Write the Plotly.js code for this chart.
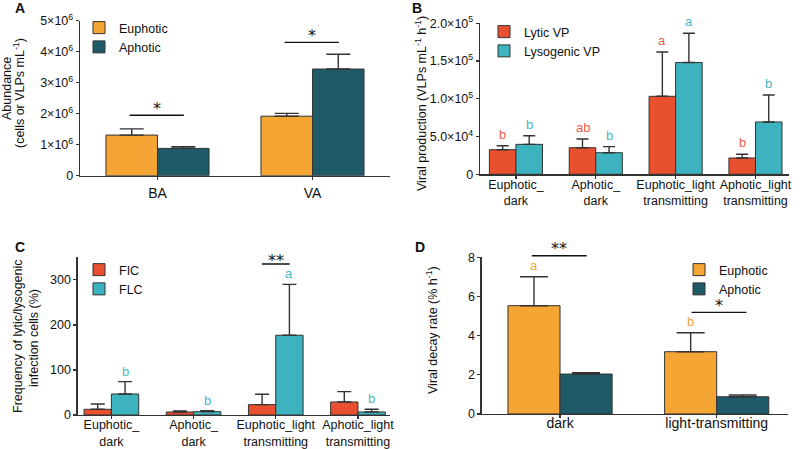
<!DOCTYPE html>
<html>
<head>
<meta charset="utf-8">
<script src="https://cdn.plot.ly/plotly-3.0.1.min.js"></script>
<style>html,body{margin:0;padding:0;background:#fff;}#chart{width:800px;height:449px;}</style>
</head>
<body>
<div id="chart"></div>
<script>
// ---------- DATA ----------
// Panel A
const catsA = ['BA', 'VA'];
const euphA = [1.31e6, 1.92e6];
const euphAerr = [0.20e6, 0.09e6];
const aphA = [0.88e6, 3.44e6];
const aphAerr = [0.055e6, 0.48e6];
const tickValsA = [0, 1e6, 2e6, 3e6, 4e6, 5e6];
const tickTextA = ['0', '1×10<sup>6</sup>', '2×10<sup>6</sup>', '3×10<sup>6</sup>', '4×10<sup>6</sup>', '5×10<sup>6</sup>'];

// Panel B
const catsB = ['Euphotic_<br>dark', 'Aphotic_<br>dark', 'Euphotic_light<br>transmitting', 'Aphotic_light<br>transmitting'];
const lyticB = [3.26e4, 3.52e4, 1.033e5, 2.16e4];
const lyticBerr = [0.53e4, 1.16e4, 0.586e5, 0.49e4];
const lysoB = [3.97e4, 2.86e4, 1.48e5, 6.93e4];
const lysoBerr = [1.14e4, 0.80e4, 0.388e5, 3.57e4];
const lyticBletters = ['b', 'ab', 'a', 'b'];
const lysoBletters = ['b', 'b', 'a', 'b'];
const tickValsB = [0, 5e4, 1e5, 1.5e5, 2e5];
const tickTextB = ['0', '5.0×10<sup>4</sup>', '1.0×10<sup>5</sup>', '1.5×10<sup>5</sup>', '2.0×10<sup>5</sup>'];

// Panel C
const catsC = catsB;
const ficC = [12.6, 6.7, 23, 28.9];
const ficCerr = [11.8, 2.5, 23, 22.9];
const flcC = [46.7, 7.4, 177, 6.7];
const flcCerr = [27.3, 2.2, 113, 5.9];
const flcCletters = ['b', 'b', 'a', 'b'];
const tickValsC = [0, 100, 200, 300];

// Panel D
const catsD = ['dark', 'light-transmitting'];
const euphD = [5.53, 3.18];
const euphDerr = [1.48, 0.97];
const aphD = [2.04, 0.88];
const aphDerr = [0.07, 0.09];
const euphDletters = ['a', 'b'];
const tickValsD = [0, 2, 4, 6, 8];

// ---------- STYLE ----------
const ORANGE = '#F5A533', DTEAL = '#1F5A68', RED = '#E8502F', LTEAL = '#3DB3BF';
const RED_T = '#E8614A', LTEAL_T = '#4BB7C3', ORANGE_T = '#F2A540';
const INK = '#333333';
const FONT = 'Liberation Sans, Arial, sans-serif';

function bar(x, y, err, color, name, xa, ya, legend, ew) {
  return {
    type: 'bar', x: x, y: y, name: name, xaxis: xa, yaxis: ya, legend: legend,
    marker: {color: color, line: {color: INK, width: 1}},
    error_y: {type: 'data', array: err, arrayminus: err.map(() => 0), symmetric: false,
              color: INK, thickness: 1.4, width: ew}
  };
}

const traces = [
  bar(catsA, euphA, euphAerr, ORANGE, 'Euphotic', 'x', 'y', 'legend', 12),
  bar(catsA, aphA, aphAerr, DTEAL, 'Aphotic', 'x', 'y', 'legend', 12),
  bar(catsB, lyticB, lyticBerr, RED, 'Lytic VP', 'x2', 'y2', 'legend2', 6),
  bar(catsB, lysoB, lysoBerr, LTEAL, 'Lysogenic VP', 'x2', 'y2', 'legend2', 6),
  bar(catsC, ficC, ficCerr, RED, 'FIC', 'x3', 'y3', 'legend3', 7),
  bar(catsC, flcC, flcCerr, LTEAL, 'FLC', 'x3', 'y3', 'legend3', 7),
  bar(catsD, euphD, euphDerr, ORANGE, 'Euphotic', 'x4', 'y4', 'legend4', 14),
  bar(catsD, aphD, aphDerr, DTEAL, 'Aphotic', 'x4', 'y4', 'legend4', 14)
];

function xax(domain, range, anchor, fs, so) {
  return {domain: domain, range: range, anchor: anchor, type: 'category',
    showline: true, linecolor: INK, linewidth: 1.3, ticks: 'outside', ticklen: 3,
    tickwidth: 1.3, tickcolor: INK, showgrid: false, zeroline: false,
    ticklabelstandoff: so,
    tickfont: {family: FONT, size: fs, color: '#111'}, fixedrange: true};
}
function yax(domain, range, anchor, tv, tt) {
  return {domain: domain, range: range, anchor: anchor, showline: true, linecolor: INK,
    linewidth: 1.3, ticks: 'outside', ticklen: 3, tickwidth: 1.3, tickcolor: INK,
    showgrid: false, zeroline: false, tickvals: tv, ticktext: tt,
    tickfont: {family: FONT, size: 12.5, color: '#111'}, fixedrange: true};
}

const W = 800, H = 449;
const px = v => v / W, py = v => 1 - v / H;
const legFont = {family: FONT, size: 12.5, color: '#111'};

const layout = {
  width: W, height: H, margin: {l: 0, r: 0, t: 0, b: 0},
  paper_bgcolor: '#fff', plot_bgcolor: '#fff',
  barmode: 'group', bargap: 0.335, bargroupgap: 0,
  font: {family: FONT, color: '#111'},
  xaxis: xax([px(80), px(390)], [-0.5, 1.5], 'y', 14, 1),
  yaxis: yax([py(175.7), py(20.7)], [0, 5e6], 'x', tickValsA, tickTextA),
  xaxis2: xax([px(480), px(789)], [-0.45, 3.42], 'y2', 12.5, -5),
  yaxis2: yax([py(174.3), py(23.3)], [0, 2e5], 'x2', tickValsB, tickTextB),
  xaxis3: xax([px(77.7), px(390)], [-0.41, 3.39], 'y3', 12.5, -5),
  yaxis3: yax([py(415), py(257.3)], [0, 350], 'x3', tickValsC, tickValsC.map(String)),
  xaxis4: xax([px(481.7), px(788.3)], [-0.5, 1.457], 'y4', 14, -7),
  yaxis4: yax([py(414), py(257.3)], [0, 8], 'x4', tickValsD, tickValsD.map(String)),
  legend: {x: px(79), y: py(13), xanchor: 'left', yanchor: 'top', font: legFont,
           bgcolor: 'rgba(0,0,0,0)', itemwidth: 30},
  legend2: {x: px(484), y: py(17), xanchor: 'left', yanchor: 'top', font: legFont,
           bgcolor: 'rgba(0,0,0,0)', itemwidth: 30},
  legend3: {x: px(79), y: py(255), xanchor: 'left', yanchor: 'top', font: legFont,
           bgcolor: 'rgba(0,0,0,0)', itemwidth: 30},
  legend4: {x: px(679), y: py(255), xanchor: 'left', yanchor: 'top', font: legFont,
           bgcolor: 'rgba(0,0,0,0)', itemwidth: 30},
  shapes: [], annotations: []
};

// panel letters
[['A', 20, 8], ['B', 417, 8], ['C', 20, 247], ['D', 420, 247]].forEach(p => {
  layout.annotations.push({text: '<b>' + p[0] + '</b>', xref: 'paper', yref: 'paper',
    x: px(p[1]), y: py(p[2]), showarrow: false, xanchor: 'center', yanchor: 'middle',
    font: {family: FONT, size: 14, color: '#111'}});
});

// y-axis titles
const titleFont = {family: FONT, size: 12.5, color: '#111'};
[['Abundance', 7, 89],
 ['(cells or VLPs mL<sup>-1</sup>)', 19, 93],
 ['Viral production (VLPs mL<sup>-1</sup> h<sup>-1</sup>)', 421, 104],
 ['Frequency of lytic/lysogenic', 18, 336],
 ['infection cells (%)', 34, 338],
 ['Viral decay rate (% h<sup>-1</sup>)', 432, 330]].forEach(t => {
  layout.annotations.push({text: t[0], xref: 'paper', yref: 'paper', x: px(t[1]), y: py(t[2]),
    textangle: -90, showarrow: false, xanchor: 'center', yanchor: 'middle', font: titleFont});
});

// significance brackets
const off = (1 - 0.335) / 4;
function sig(xa, ya, yMax, x0, x1, yv, stars, sh) {
  const dom = yv > yMax;
  const yy = dom ? yv / yMax : yv, yr = dom ? ya + ' domain' : ya;
  layout.shapes.push({type: 'line', xref: xa, yref: yr, x0: x0, x1: x1, y0: yy, y1: yy,
    line: {color: '#111', width: 1.4}});
  layout.annotations.push({text: stars, xref: xa, yref: yr, x: (x0 + x1) / 2, y: yy,
    showarrow: false, yanchor: 'middle', yshift: sh,
    font: {family: 'DejaVu Sans, sans-serif', size: 16, color: '#111'}});
}
sig('x', 'y', 5e6, -0.18, 0.17, 1.95e6, '*', 7);
sig('x', 'y', 5e6, 0.82, 1.17, 4.30e6, '*', 7);
sig('x3', 'y3', 350, 1.83, 2.17, 335, '**', 4);
sig('x4', 'y4', 8, -0.18, 0.17, 8.08, '**', 7);
sig('x4', 'y4', 8, 0.84, 1.19, 5.19, '*', 7);

// letters over bars
function letters(xa, ya, vals, errs, labs, side, color, shift) {
  labs.forEach((t, i) => {
    layout.annotations.push({text: t, xref: xa, yref: ya, x: i + side * off,
      y: vals[i] + errs[i], showarrow: false, yanchor: 'bottom', yshift: shift,
      font: {family: FONT, size: 13, color: color}});
  });
}
letters('x2', 'y2', lyticB, lyticBerr, lyticBletters, -1, RED_T, 2);
letters('x2', 'y2', lysoB, lysoBerr, lysoBletters, 1, LTEAL_T, 2);
letters('x3', 'y3', flcC, flcCerr, flcCletters, 1, LTEAL_T, 1);
letters('x4', 'y4', euphD, euphDerr, euphDletters, -1, ORANGE_T, 2);

Plotly.newPlot('chart', traces, layout, {displayModeBar: false, staticPlot: true});
</script>
</body>
</html>
